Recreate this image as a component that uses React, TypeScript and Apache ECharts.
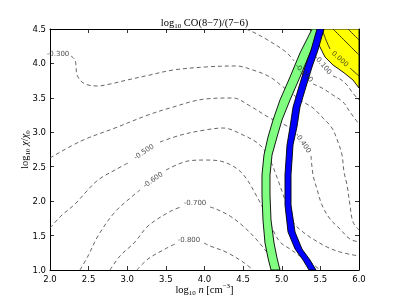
import { useEffect, useRef } from "react";
import * as echarts from "echarts";

// ---- axis ticks ----
const xTicks = [2.0, 2.5, 3.0, 3.5, 4.0, 4.5, 5.0, 5.5, 6.0];
const yTicks = [1.0, 1.5, 2.0, 2.5, 3.0, 3.5, 4.0, 4.5];

// ---- contour lines (log10 n, log10 chi) ----
const cM030 = [[2.272,4.108],[2.324,4.05],[2.337,3.948],[2.35,3.832],[2.414,3.73],[2.492,3.687],[2.608,3.672],[2.777,3.701],[2.997,3.759],[3.294,3.832],[3.592,3.904],[4.006,3.948],[4.408,3.963],[4.628,3.904],[4.848,3.803],[5.003,3.672],[5.172,3.527],[5.301,3.425],[5.405,3.353],[5.534,3.207],[5.65,3.062],[5.728,2.859],[5.78,2.67],[5.806,2.423],[5.845,2.234],[5.883,1.944],[5.922,1.697],[6.0,1.581]];
const cM040a = [[2.0,2.626],[2.401,2.873],[2.841,3.062],[3.269,3.251],[3.553,3.353],[4.006,3.483],[4.369,3.498],[4.589,3.382],[4.848,3.207],[5.068,3.091],[5.159,3.019]];
const cM040b = [[5.379,2.656],[5.405,2.38],[5.456,2.176],[5.521,1.944],[5.625,1.741],[5.754,1.595],[5.883,1.45],[6.0,1.407]];
const cM050a = [[2.0,1.61],[2.142,1.784],[2.324,1.958],[2.466,2.133],[2.621,2.307],[2.841,2.452],[3.01,2.554]];
const cM050b = [[3.424,2.859],[3.696,2.961],[4.006,3.033],[4.24,3.062],[4.498,2.961],[4.718,2.815],[4.848,2.597],[4.951,2.307],[5.042,2.017],[5.146,1.697],[5.275,1.552],[5.405,1.45],[5.586,1.334],[5.754,1.261],[6.0,1.203]];
const cM060a = [[2.388,1.0],[2.492,1.203],[2.621,1.494],[2.841,1.842],[3.1,2.104],[3.165,2.162]];
const cM060b = [[3.502,2.452],[3.786,2.583],[4.006,2.597],[4.201,2.583],[4.408,2.481],[4.537,2.336],[4.667,2.089],[4.77,1.871],[4.874,1.61],[4.977,1.407],[5.107,1.305],[5.236,1.203],[5.366,1.116],[5.495,1.0]];
const cM070a = [[2.777,1.0],[2.906,1.203],[3.1,1.407],[3.269,1.639],[3.566,1.857],[3.696,1.915]];
const cM070b = [[4.071,1.915],[4.149,1.886],[4.33,1.784],[4.498,1.639],[4.667,1.45],[4.848,1.203],[4.99,1.0]];
const cM080a = [[3.126,1.0],[3.269,1.16],[3.489,1.305],[3.618,1.378]];
const cM080b = [[3.994,1.392],[4.071,1.349],[4.278,1.261],[4.498,1.116],[4.628,1.0]];
const cM020a = [[4.537,4.5],[4.628,4.456],[4.796,4.355],[5.055,4.166],[5.159,4.035]];
const cM020b = [[5.405,3.701],[5.521,3.643],[5.663,3.541],[5.793,3.44],[5.883,3.295],[6.0,3.12]];
const cM010 = [[5.663,3.817],[5.754,3.774],[5.845,3.687],[5.909,3.585],[6.0,3.469]];
const cP000a = [[5.521,4.5],[5.573,4.34],[5.625,4.209]];
const cP000b = [[5.883,3.933],[6.0,3.817]];
const cP010 = [[5.663,4.5],[5.819,4.326],[6.0,4.122]];
const cP020 = [[5.858,4.5],[6.0,4.34]];

const contours = [
  { level: -0.8, segs: [cM080a, cM080b] },
  { level: -0.7, segs: [cM070a, cM070b] },
  { level: -0.6, segs: [cM060a, cM060b] },
  { level: -0.5, segs: [cM050a, cM050b] },
  { level: -0.4, segs: [cM040a, cM040b] },
  { level: -0.3, segs: [cM030] },
  { level: -0.2, segs: [cM020a, cM020b] },
  { level: -0.1, segs: [cM010] },
  { level: 0.0, segs: [cP000a, cP000b] },
  { level: 0.1, segs: [cP010] },
  { level: 0.2, segs: [cP020] },
];

// contour labels: [x, y, text, angle]
const contourLabels: [number, number, string, number][] = [
  [2.104, 4.137, "-0.300", 0],
  [5.275, 2.844, "-0.400", -56],
  [3.217, 2.714, "-0.500", 33],
  [3.333, 2.307, "-0.600", 35],
  [3.877, 1.973, "-0.700", 0],
  [3.799, 1.436, "-0.800", 0],
  [5.288, 3.861, "-0.200", -47],
  [5.534, 3.977, "-0.100", -50],
  [5.754, 4.064, "0.000", -42],
];

// ---- constraint regions ----
const yellowRegion = [[5.366,4.5],[5.417,4.398],[5.469,4.297],[5.521,4.18],[5.56,4.093],[5.663,3.977],[5.793,3.875],[5.922,3.759],[6.0,3.643],[6.0,4.5]];
const greenLeft = [[5.392,4.5],[5.236,4.151],[5.107,3.803],[4.977,3.469],[4.887,3.178],[4.822,2.931],[4.77,2.67],[4.744,2.38],[4.744,2.089],[4.757,1.726],[4.783,1.392],[4.822,1.174],[4.861,1.0]];
const greenRight = [[5.508,4.5],[5.366,4.151],[5.236,3.803],[5.107,3.469],[5.003,3.178],[4.939,2.931],[4.874,2.67],[4.848,2.38],[4.848,2.089],[4.861,1.726],[4.9,1.392],[4.939,1.174],[4.977,1.0]];
const blueLeft = [[5.456,4.5],[5.379,4.195],[5.301,3.948],[5.21,3.614],[5.146,3.367],[5.107,3.077],[5.068,2.815],[5.055,2.597],[5.042,2.38],[5.042,1.944],[5.081,1.552],[5.172,1.305],[5.275,1.145],[5.353,1.0]];
const blueRight = [[5.547,4.5],[5.469,4.195],[5.392,3.948],[5.301,3.614],[5.236,3.367],[5.197,3.077],[5.146,2.815],[5.133,2.597],[5.12,2.38],[5.12,1.944],[5.172,1.552],[5.262,1.305],[5.366,1.145],[5.443,1.0]];

const serif = "Liberation Serif";
const base = { fontFamily: serif, color: "#000", fontWeight: "normal" };
const richMath = {
  a: { ...base, fontSize: 10.5, lineHeight: 14, verticalAlign: "middle" },
  i: { ...base, fontSize: 10.5, lineHeight: 14, fontStyle: "italic", verticalAlign: "middle" },
  s: { ...base, fontSize: 7, lineHeight: 7, verticalAlign: "bottom" },
  p: { ...base, fontSize: 7, lineHeight: 7, verticalAlign: "top" },
};

export default function App() {
  const ref = useRef<HTMLDivElement>(null);
  useEffect(() => {
    const chart = echarts.init(ref.current!, null, { renderer: "svg" });

    const lineSeries = contours.flatMap((c) =>
      c.segs.map((seg) => ({
        type: "line",
        data: seg,
        smooth: 0.35,
        showSymbol: false,
        silent: true,
        z: 2,
        lineStyle: {
          color: c.level >= 0 ? "#222" : "#555",
          width: 0.9,
          type: c.level >= 0 ? "solid" : [4, 3],
        },
      }))
    );

    const poly = (pts: number[][], fill: string, z: number) => ({
      type: "custom",
      z,
      clip: true,
      silent: true,
      data: [[4, 3]],
      renderItem: (_params: any, api: any) => ({
        type: "polygon",
        shape: { points: pts.map((p) => api.coord(p)) },
        style: { fill, stroke: "#000", lineWidth: 0.9 },
      }),
    });

    const axisCommon = {
      type: "value",
      axisLine: { show: true, onZero: false, lineStyle: { color: "#000", width: 1 } },
      axisTick: { show: true, inside: true, length: 4, lineStyle: { color: "#000", width: 0.8 } },
      splitLine: { show: false },
    };
    const tickLabel = { formatter: (v: number) => v.toFixed(1), fontSize: 8.5, color: "#000", margin: 4, fontFamily: "DejaVu Sans" };

    chart.setOption({
      animation: false,
      title: {
        text: "{a|log}{s|10}{a| CO(8−7)/(7−6)}",
        left: 204.5,
        textAlign: "center",
        top: 15,
        padding: 0,
        textStyle: { fontWeight: "normal", rich: richMath },
      },
      grid: { left: 50, right: 40, top: 29, bottom: 31, containLabel: false, outerBoundsMode: "none" },
      xAxis: [
        {
          ...axisCommon,
          min: xTicks[0],
          max: xTicks[xTicks.length - 1],
          interval: 0.5,
          position: "bottom",
          axisLabel: tickLabel,
          name: "{a|log}{s|10}{i| n}{a| [cm}{p|−3}{a|]}",
          nameLocation: "middle",
          nameGap: 12.5,
          nameMoveOverlap: false,
          nameTextStyle: { rich: richMath },
        },
        {
          ...axisCommon,
          min: xTicks[0],
          max: xTicks[xTicks.length - 1],
          interval: 0.5,
          position: "top",
          axisLabel: { show: false },
        },
      ],
      yAxis: [
        {
          ...axisCommon,
          min: yTicks[0],
          max: yTicks[yTicks.length - 1],
          interval: 0.5,
          position: "left",
          axisLabel: tickLabel,
          name: "{a|log}{s|10}{i| χ}{a|/}{i|χ}{s|0}",
          nameLocation: "middle",
          nameRotate: 90,
          nameGap: 19,
          nameMoveOverlap: false,
          nameTextStyle: { rich: richMath },
        },
        {
          ...axisCommon,
          min: yTicks[0],
          max: yTicks[yTicks.length - 1],
          interval: 0.5,
          position: "right",
          axisLabel: { show: false },
        },
      ],
      series: [
        poly(yellowRegion, "#ffff00", 1),
        ...lineSeries,
        poly([...greenLeft, ...greenRight.slice().reverse()], "#80ff80", 3),
        poly([...blueLeft, ...blueRight.slice().reverse()], "#0000ff", 3),
        {
          type: "scatter",
          z: 5,
          silent: true,
          symbolSize: 0,
          data: contourLabels.map(([x, y, t, r]) => ({
            value: [x, y],
            name: t,
            label: { rotate: r },
          })),
          label: {
            show: true,
            position: "inside",
            formatter: (p: any) => p.name,
            fontSize: 7,
            fontFamily: "DejaVu Sans",
            color: "#222",
          },
        },
      ],
    });
    return () => chart.dispose();
  }, []);
  return <div ref={ref} style={{ position: "fixed", left: 0, top: 0, width: 399, height: 301 }} />;
}
